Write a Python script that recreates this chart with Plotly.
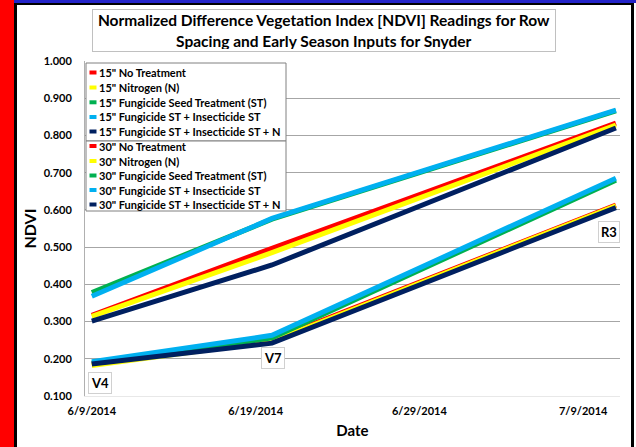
import plotly.graph_objects as go

dates = ["2014-06-09", "2014-06-20", "2014-07-11"]
treatments = ["No Treatment", "Nitrogen (N)", "Fungicide Seed Treatment (ST)",
              "Fungicide ST + Insecticide ST", "Fungicide ST + Insecticide ST + N"]
colors = ["#FF0000", "#FFFF00", "#00B050", "#00B0F0", "#002060"]

ndvi_15_no_treatment = [0.317, 0.497, 0.833]
ndvi_15_nitrogen = [0.314, 0.485, 0.828]
ndvi_15_fung_st = [0.378, 0.575, 0.866]
ndvi_15_fung_ins = [0.368, 0.577, 0.868]
ndvi_15_fung_ins_n = [0.301, 0.452, 0.820]

ndvi_30_no_treatment = [0.186, 0.250, 0.613]
ndvi_30_nitrogen = [0.182, 0.247, 0.611]
ndvi_30_fung_st = [0.188, 0.256, 0.680]
ndvi_30_fung_ins = [0.192, 0.263, 0.685]
ndvi_30_fung_ins_n = [0.186, 0.242, 0.606]

series_15 = [ndvi_15_no_treatment, ndvi_15_nitrogen, ndvi_15_fung_st, ndvi_15_fung_ins, ndvi_15_fung_ins_n]
series_30 = [ndvi_30_no_treatment, ndvi_30_nitrogen, ndvi_30_fung_st, ndvi_30_fung_ins, ndvi_30_fung_ins_n]

y_ticks = [0.1, 0.2, 0.3, 0.4, 0.5, 0.6, 0.7, 0.8, 0.9, 1.0]
stage_labels = ["V4", "V7", "R3"]

FONT = "Lato"
W, H = 636, 447
ML, MR, MT, MB = 85, 16, 61, 51
PW, PH = W - ML - MR, H - MT - MB


def px(x):
    return (x - ML) / PW


def py(y):
    return (H - MB - y) / PH


fig = go.Figure()
legend_entries = []
for name, vals, c in zip(treatments, series_15, colors):
    fig.add_trace(go.Scatter(x=dates, y=vals, mode="lines", name='15" ' + name,
                             line=dict(color=c, width=5), showlegend=False))
    legend_entries.append(('15" ' + name, c))
for name, vals, c in zip(treatments, series_30, colors):
    fig.add_trace(go.Scatter(x=dates, y=vals, mode="lines", name='30" ' + name,
                             line=dict(color=c, width=5), showlegend=False))
    legend_entries.append(('30" ' + name, c))

shapes = [
    dict(type="rect", xref="paper", yref="paper", x0=px(0), x1=px(14), y0=py(H), y1=py(0),
         fillcolor="#FF0000", line=dict(width=0), layer="above"),
    dict(type="rect", xref="paper", yref="paper", x0=px(14), x1=px(W), y0=py(3), y1=py(0),
         fillcolor="#2424C8", line=dict(width=0), layer="above"),
    dict(type="rect", xref="paper", yref="paper", x0=px(14), x1=px(17), y0=py(H), y1=py(3),
         fillcolor="black", line=dict(width=0), layer="above"),
    dict(type="rect", xref="paper", yref="paper", x0=px(17), x1=px(632), y0=py(5), y1=py(3),
         fillcolor="black", line=dict(width=0), layer="above"),
    dict(type="rect", xref="paper", yref="paper", x0=px(631), x1=px(634), y0=py(H), y1=py(3),
         fillcolor="black", line=dict(width=0), layer="above"),
    # legend boxes
    dict(type="rect", xref="paper", yref="paper", x0=px(86), x1=px(286), y0=py(141), y1=py(63),
         fillcolor="white", line=dict(color="#808080", width=1), layer="above"),
    dict(type="rect", xref="paper", yref="paper", x0=px(86), x1=px(286), y0=py(211), y1=py(141),
         fillcolor="white", line=dict(color="#808080", width=1), layer="above"),
]

annotations = [
    dict(text="Normalized Difference Vegetation Index [NDVI] Readings for Row<br>Spacing and Early Season Inputs for Snyder",
         xref="paper", yref="paper", x=px(323.5), y=py(31), xanchor="center", yanchor="middle",
         showarrow=False, align="center", bgcolor="white", bordercolor="#C0C0C0", borderwidth=1,
         borderpad=2, width=458, height=37,
         font=dict(family=FONT, size=15.5, color="black", weight="bold")),
]

row_y = [72.5, 87.5, 102.3, 117, 131.5, 146, 161, 175.5, 190, 204.5]
for (label, c), ry in zip(legend_entries, row_y):
    shapes.append(dict(type="line", xref="paper", yref="paper", x0=px(89.5), x1=px(96.5),
                       y0=py(ry), y1=py(ry), line=dict(color=c, width=4), layer="above"))
    annotations.append(dict(text=label, xref="paper", yref="paper", x=px(96.5), y=py(ry),
                            xanchor="left", yanchor="middle", showarrow=False,
                            font=dict(family=FONT, size=11, color="black", weight="bold")))

stage_pos = [(99.5, 382.5), (272.5, 357.5), (608.5, 232)]
for lab, (x, y) in zip(stage_labels, stage_pos):
    annotations.append(dict(text=lab, xref="paper", yref="paper", x=px(x), y=py(y),
                            xanchor="center", yanchor="middle", showarrow=False,
                            bgcolor="white", bordercolor="#D0D0D0", borderwidth=1, borderpad=2,
                            font=dict(family=FONT, size=13, color="black", weight="bold")))

fig.update_layout(
    width=W, height=H,
    margin=dict(l=ML, r=MR, t=MT, b=MB, pad=0, autoexpand=False),
    paper_bgcolor="white", plot_bgcolor="white",
    font=dict(family=FONT, color="black"),
    showlegend=False,
    xaxis=dict(type="date", range=["2014-06-08 14:00", "2014-07-11 06:00"],
               tick0="2014-06-09", dtick=10 * 86400000, tickformat="%-m/%-d/%Y",
               showgrid=False, showline=True, linecolor="#E8E8E8", ticks="",
               automargin=False, ticklabelstandoff=5,
               tickfont=dict(family=FONT, size=11, color="black", weight="bold"),
               title=dict(text="Date", standoff=9,
                          font=dict(family=FONT, size=15, color="black", weight="bold"))),
    yaxis=dict(range=[0.1, 1.0], tickvals=y_ticks, tickformat=".3f",
               showgrid=True, gridcolor="#A6A6A6", gridwidth=1,
               showline=True, linecolor="#B0B0B0", ticks="", zeroline=False,
               ticklabelstandoff=10, automargin=False,
               tickfont=dict(family=FONT, size=11, color="black", weight="bold"),
               title=dict(text="NDVI", standoff=3,
                          font=dict(family=FONT, size=16, color="black", weight="bold"))),
    shapes=shapes,
    annotations=annotations,
)

fig.write_html("out.html", config={"displayModeBar": False},
               post_script="document.body.style.margin='0';document.body.style.overflow='hidden';")
